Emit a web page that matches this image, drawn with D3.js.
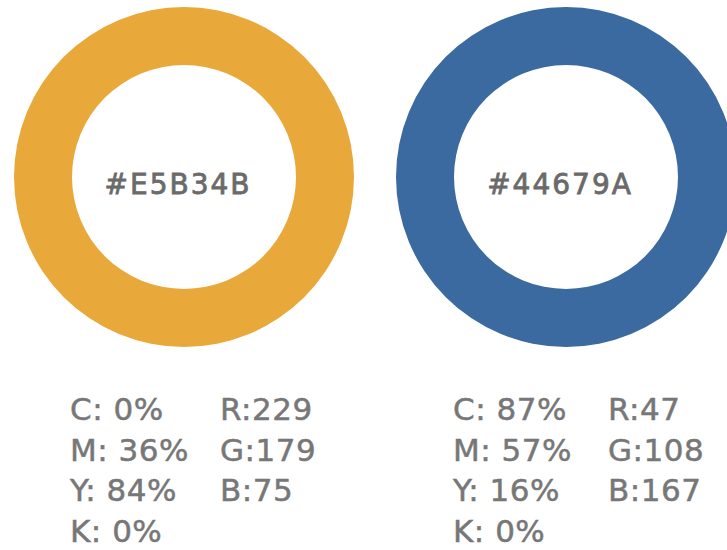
<!DOCTYPE html>
<html>
<head>
<meta charset="utf-8">
<script src="https://cdn.jsdelivr.net/npm/d3@7"></script>
<style>
  body { margin: 0; background: #fff; }
  svg { display: block; }
</style>
</head>
<body>
<div id="app"></div>
<script>
// swatch data
const hexLabels = ['#E5B34B', '#44679A'];
const fills = ['#e9a93a', '#3a6aa0'];
const cmykNames = ['C', 'M', 'Y', 'K'];
const cmykValues = [[0, 36, 84, 0], [87, 57, 16, 0]];
const rgbNames = ['R', 'G', 'B'];
const rgbValues = [[229, 179, 75], [47, 108, 167]];

const width = 727, height = 550;
const svg = d3.select('#app').append('svg')
  .attr('width', width)
  .attr('height', height);

const x = d3.scaleOrdinal().domain(hexLabels).range([184, 566]);
const cy = 177;
const arc = d3.arc().innerRadius(112).outerRadius(170).startAngle(0).endAngle(2 * Math.PI);

const swatch = svg.selectAll('g.swatch')
  .data(hexLabels)
  .join('g')
  .attr('class', 'swatch')
  .attr('transform', d => `translate(${x(d)},${cy})`);

swatch.append('path')
  .attr('d', arc())
  .attr('fill', (d, i) => fills[i]);

swatch.append('text')
  .attr('x', -6)
  .attr('y', 17)
  .attr('text-anchor', 'middle')
  .attr('font-family', '"DejaVu Sans", sans-serif')
  .attr('font-size', 28)
  .attr('letter-spacing', 2)
  .attr('fill', '#6a6a6a')
  .attr('stroke', '#6a6a6a')
  .attr('stroke-width', 0.8)
  .text(d => d);

// cmyk / rgb columns
const rowY = d3.scaleLinear().domain([0, 3]).range([420, 542]);
const colLeft = [70, 453];
const colRight = [220, 608];

hexLabels.forEach((h, i) => {
  const g = svg.append('g')
    .attr('font-family', '"DejaVu Sans", sans-serif')
    .attr('font-size', 31)
    .attr('letter-spacing', 0.5)
    .attr('fill', '#777')
    .attr('stroke', '#777')
    .attr('stroke-width', 0.5);

  g.selectAll(null)
    .data(cmykNames)
    .join('text')
    .attr('x', colLeft[i])
    .attr('y', (d, j) => rowY(j))
    .text((d, j) => `${d}: ${cmykValues[i][j]}%`);

  g.selectAll(null)
    .data(rgbNames)
    .join('text')
    .attr('x', colRight[i])
    .attr('y', (d, j) => rowY(j))
    .text((d, j) => `${d}:${rgbValues[i][j]}`);
});
</script>
</body>
</html>
